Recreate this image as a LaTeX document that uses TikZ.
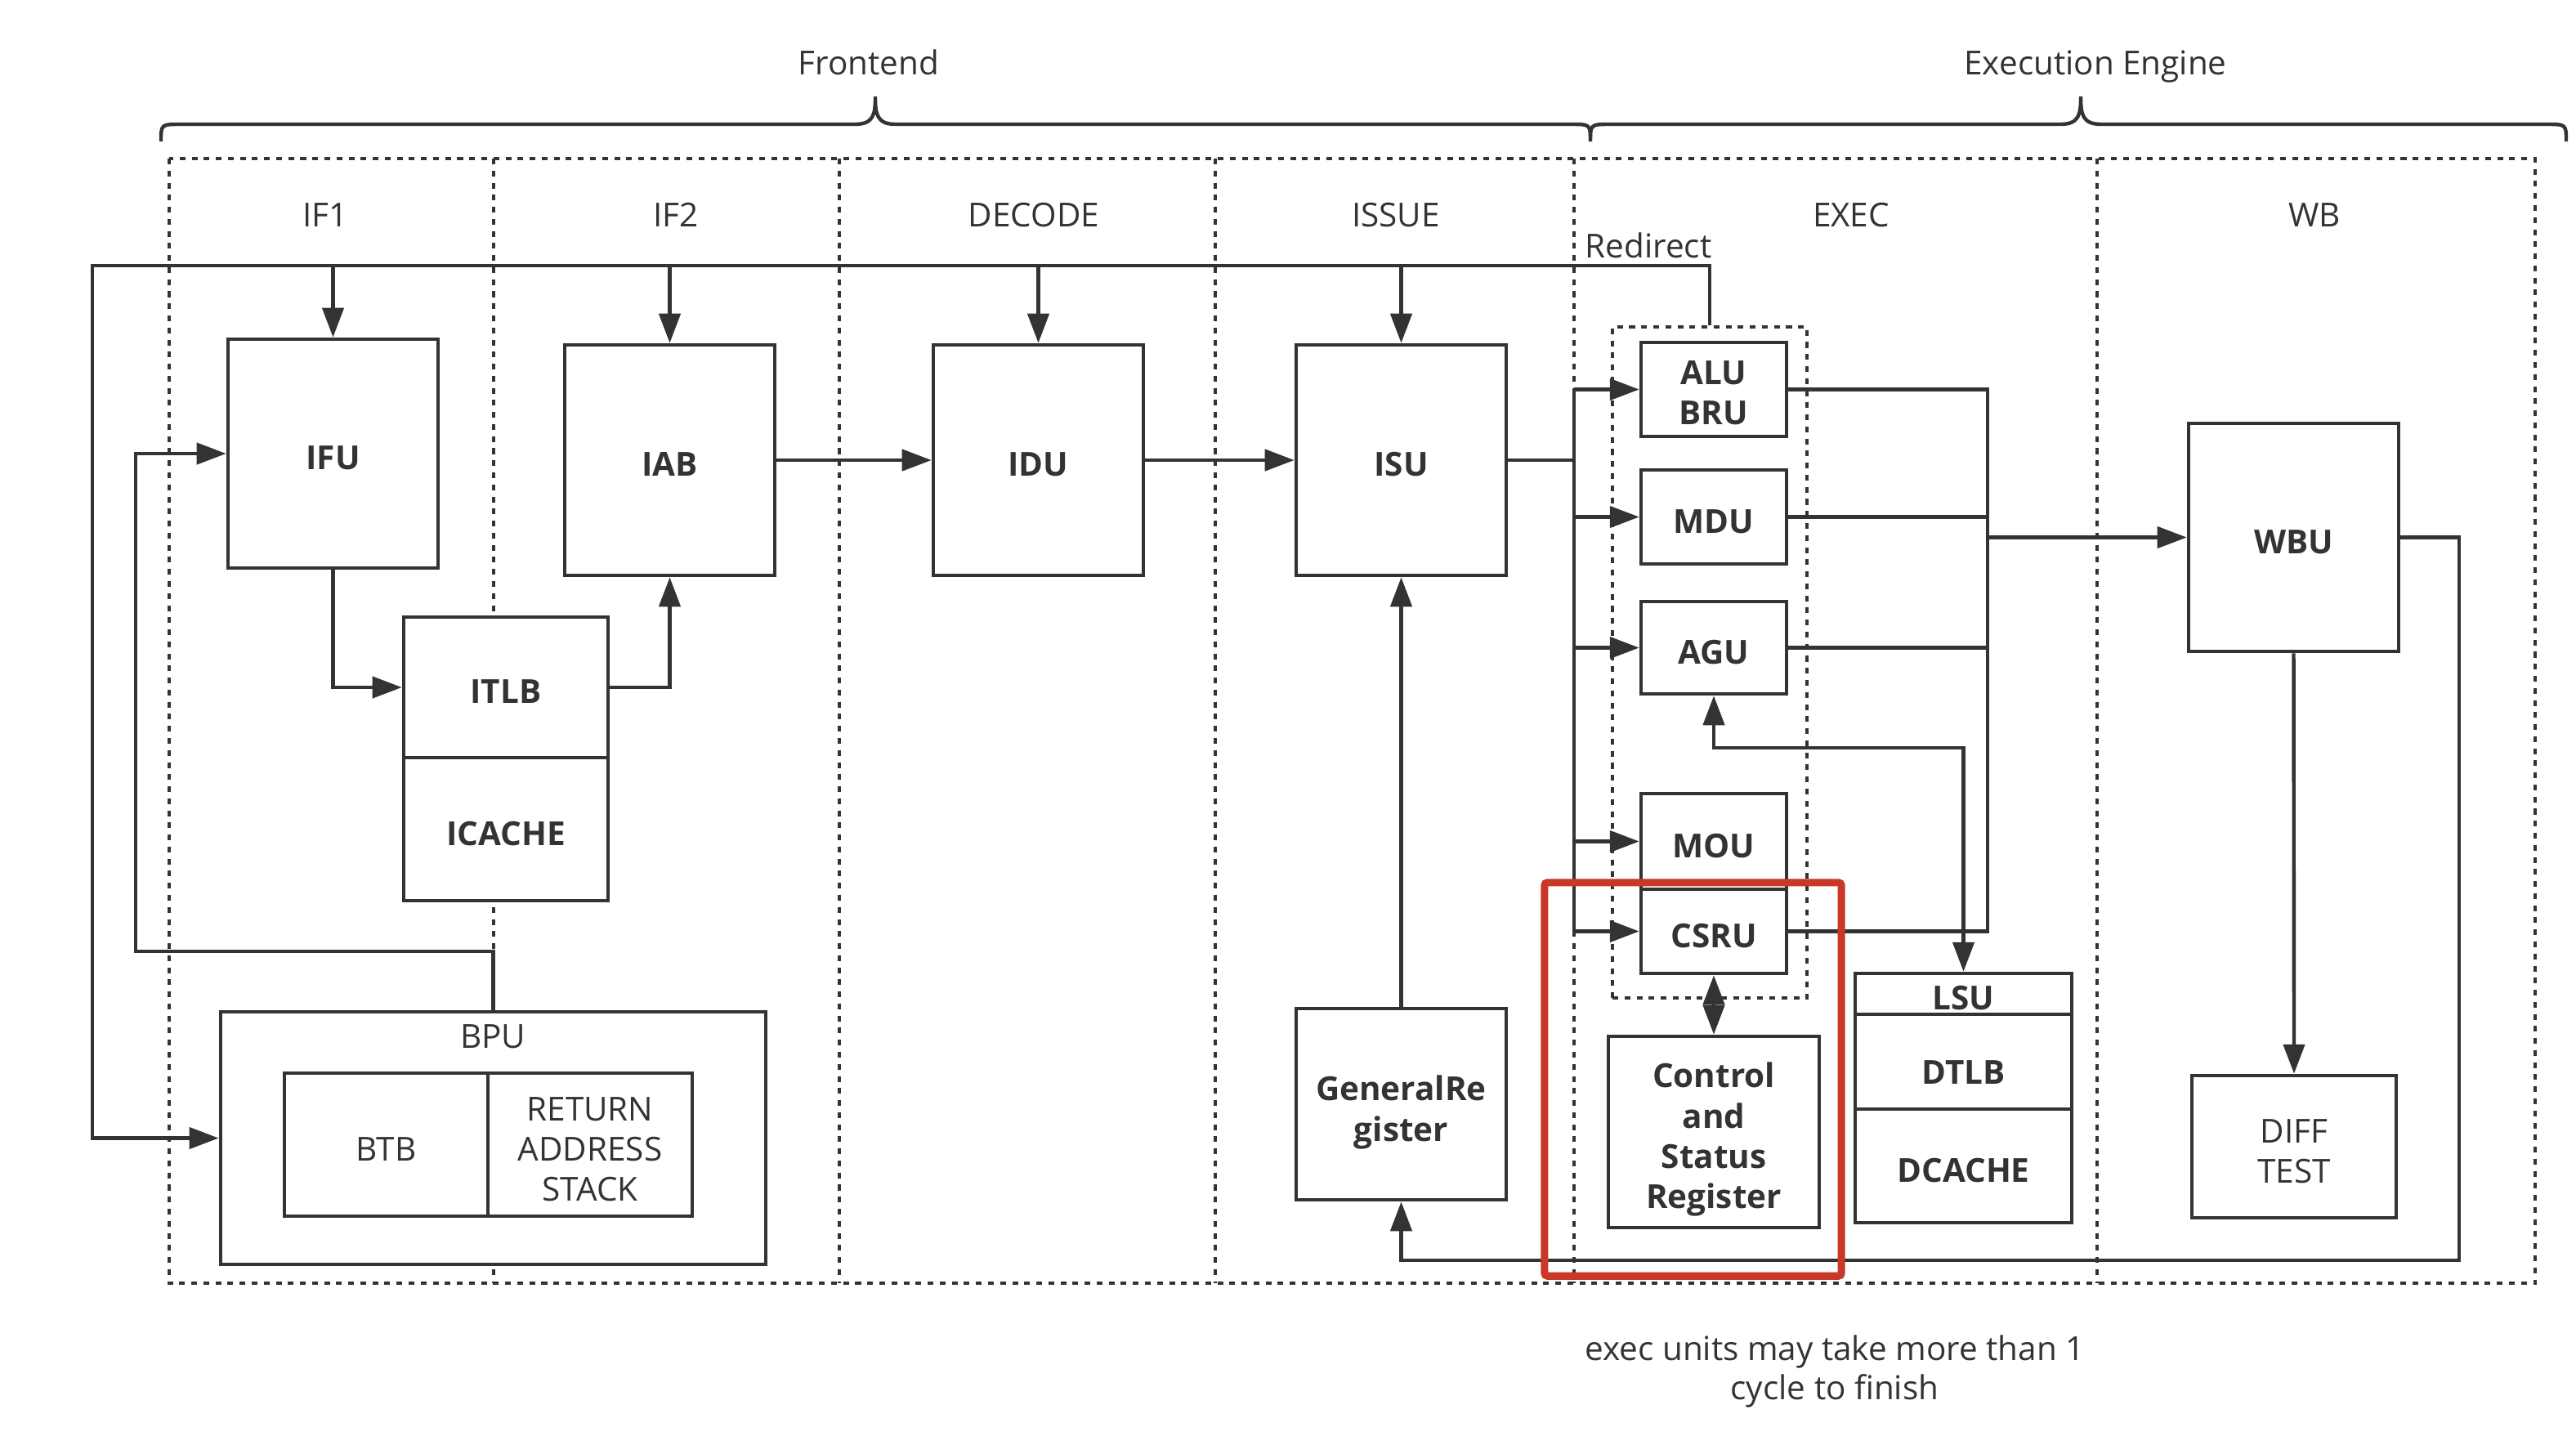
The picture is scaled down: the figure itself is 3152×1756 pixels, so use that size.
\documentclass[tikz,border=0pt]{standalone}
\usepackage{fontspec}
\setmainfont{Open Sans}
\usetikzlibrary{arrows.meta,calc}
\definecolor{linec}{HTML}{333333}
\definecolor{redc}{RGB}{200,55,40}
\begin{document}
\begin{tikzpicture}[x=0.01cm,y=-0.01cm,
  every node/.style={text=linec, font=\fontsize{11.5}{14}\selectfont},
  blk/.style={draw=linec, line width=1.25pt, fill=white, inner sep=0pt, align=center, font=\fontsize{11.5}{14}\selectfont\bfseries, execute at begin node={\rule{0pt}{11.3pt}}},
  mblk/.style={blk, execute at begin node={}},
  plainblk/.style={blk, font=\fontsize{11.5}{14}\selectfont},
  mplainblk/.style={plainblk, execute at begin node={}},
  conn/.style={draw=linec, line width=1.25pt},
  arr/.style={conn, -{Triangle[length=0.36cm,width=0.26cm]}},
  darr/.style={conn, {Triangle[length=0.36cm,width=0.26cm]}-{Triangle[length=0.36cm,width=0.26cm]}},
  stageframe/.style={draw=linec, line width=1.2pt, dash pattern=on 2pt off 2.2pt},
  ]
\useasboundingbox (0,0) rectangle (3152,1756);

% braces
\draw[conn] (197,173) .. controls (197,152) .. (222,152) -- (1046,152) .. controls (1069,152) and (1071,140) .. (1071,118) .. controls (1071,140) and (1073,152) .. (1096,152) -- (1921,152) .. controls (1946,152) .. (1946,173);
\draw[conn] (1946,173) .. controls (1946,152) .. (1971,152) -- (2521,152) .. controls (2544,152) and (2546,140) .. (2546,118) .. controls (2546,140) and (2548,152) .. (2571,152) -- (3115,152) .. controls (3140,152) .. (3140,173);
\node[anchor=base] (tFront) at (1063,91) {Frontend};
\node[anchor=base] (tExec) at (2564,91) {Execution Engine};

% stage frame
\draw[stageframe] (207,194) rectangle (3102,1570);
\foreach \x in {604,1027,1487,1926,2566} \draw[stageframe] (\x,194) -- (\x,1570);
\node (sIF1) at (398,263) {IF1};
\node (sIF2) at (827,263) {IF2};
\node (sDEC) at (1265,263) {DECODE};
\node (sISS) at (1708,263) {ISSUE};
\node (sEXE) at (2265,263) {EXEC};
\node (sWB) at (2832,263) {WB};
\node (tRedir) at (2017,300) {Redirect};

% exec group
\node[stageframe, minimum width=2.38cm, minimum height=8.21cm, inner sep=0pt] (grp) at (2092,810.5) {};

% blocks
\node[blk, minimum width=2.57cm, minimum height=2.80cm] (IFU) at (407.5,555) {IFU};
\node[blk, minimum width=2.57cm, minimum height=2.82cm] (IAB) at (819.5,563) {IAB};
\node[blk, minimum width=2.57cm, minimum height=2.82cm] (IDU) at (1270.5,563) {IDU};
\node[blk, minimum width=2.57cm, minimum height=2.82cm] (ISU) at (1714.5,563) {ISU};
\node[blk, minimum width=2.50cm, minimum height=1.72cm] (ITLB) at (619,841) {ITLB};
\node[blk, minimum width=2.50cm, minimum height=1.75cm] (ICACHE) at (619,1014.5) {ICACHE};
\node[blk, minimum width=6.67cm, minimum height=3.09cm] (BPU) at (603.5,1392.5) {};
\node (BPUt) at (603,1268) {BPU};
\node[plainblk, minimum width=2.49cm, minimum height=1.75cm] (BTB) at (472.5,1400.5) {BTB};
\node[mplainblk, minimum width=2.50cm, minimum height=1.75cm] (RAS) at (722,1400.5) {\rule{0pt}{11.6pt}RETURN\\ADDRESS\\STACK};
\node[mblk, minimum width=1.78cm, minimum height=1.15cm] (ALU) at (2097,476.5) {\rule{0pt}{10.5pt}ALU\\BRU};
\node[blk, minimum width=1.78cm, minimum height=1.15cm] (MDU) at (2097,632.5) {MDU};
\node[blk, minimum width=1.78cm, minimum height=1.13cm] (AGU) at (2097,792.5) {AGU};
\node[blk, minimum width=1.78cm, minimum height=1.17cm] (MOU) at (2097,1029.5) {MOU};
\node[blk, minimum width=1.78cm, minimum height=1.03cm, execute at begin node={\rule{0pt}{8.5pt}}] (CSRU) at (2097,1139.5) {CSRU};
\node[mblk, minimum width=2.58cm, minimum height=2.34cm] (CSR) at (2097,1385) {\rule{0pt}{14pt}Control\\and\\Status\\Register};
\node[blk, minimum width=2.65cm, minimum height=0.50cm] (LSU) at (2402.5,1216) {LSU};
\node[blk, minimum width=2.65cm, minimum height=1.16cm, execute at begin node={\rule{0pt}{15.6pt}}] (DTLB) at (2402.5,1299) {DTLB};
\node[blk, minimum width=2.65cm, minimum height=1.39cm] (DCACHE) at (2402.5,1426.5) {DCACHE};
\node[mblk, minimum width=2.57cm, minimum height=2.34cm] (GR) at (1714.5,1351) {\rule{0pt}{14.4pt}GeneralRe\\gister};
\node[blk, minimum width=2.57cm, minimum height=2.79cm] (WBU) at (2806.5,657.5) {WBU};
\node[mplainblk, minimum width=2.50cm, minimum height=1.74cm] (DIFF) at (2807,1403) {\rule{0pt}{11.6pt}DIFF\\TEST};

% helper coordinates
\coordinate (lc) at (113,325);
\coordinate (bc) at (166,1164);
\coordinate (busx) at (1926,0);
\coordinate (rbus) at (2432,0);
\coordinate (agc) at (2097,915);
\coordinate (wbc) at (3009,1542);

% connectors
\draw[arr] (grp.north) |- (lc) |- (BPU.west);
\foreach \n in {IFU,IAB,IDU,ISU} \draw[arr] (\n.north |- lc) -- (\n.north);
\draw[arr] (BPU.north) |- (bc) |- (IFU.west);
\draw[arr] (IFU.south) |- (ITLB.west);
\draw[arr] (ITLB.east) -| (IAB.south);
\draw[arr] (IAB.east) -- (IDU.west);
\draw[arr] (IDU.east) -- (ISU.west);
\draw[conn] (ISU.east) -- (ISU.east -| busx);
\draw[conn] (ALU.west -| busx) -- (CSRU.west -| busx);
\foreach \n in {ALU,MDU,AGU,MOU,CSRU} \draw[arr] (\n.west -| busx) -- (\n.west);
\draw[conn] (ALU.east) -- (ALU.east -| rbus) -- (CSRU.east -| rbus) -- (CSRU.east);
\draw[conn] (MDU.east) -- (MDU.east -| rbus);
\draw[conn] (AGU.east) -- (AGU.east -| rbus);
\draw[arr] (WBU.west -| rbus) -- (WBU.west);
\draw[darr] (AGU.south) -- (agc) -| (LSU.north);
\draw[darr] (CSRU.south) -- (CSR.north);
\draw[arr] (GR.north) -- (ISU.south);
\draw[arr] (WBU.south) -- (DIFF.north);
\draw[arr] (WBU.east) -| (wbc) -| (GR.south);

% highlight
\node[draw=redc, line width=2.6pt, rounded corners=1pt, minimum width=3.63cm, minimum height=4.81cm, inner sep=0pt] (hl) at (2071.5,1320.5) {};

% note
\node[align=center, font=\fontsize{11.5}{13.4}\selectfont] (note) at (2245,1678) {exec units may take more than 1\\cycle to finish};
\end{tikzpicture}
\end{document}
